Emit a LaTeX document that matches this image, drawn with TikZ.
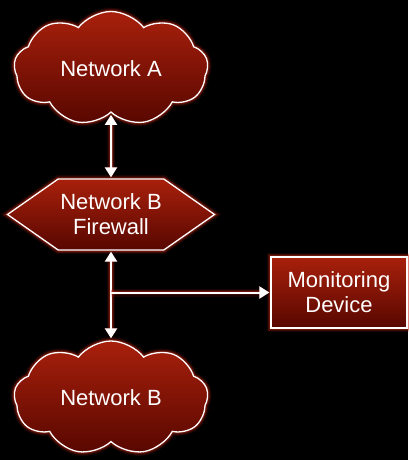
\documentclass[tikz,border=0pt]{standalone}
\usepackage{fontspec}
\setmainfont{Liberation Sans}
\usetikzlibrary{shapes.symbols,shapes.geometric,arrows.meta}
\definecolor{boxtop}{HTML}{A8200C}
\definecolor{boxbot}{HTML}{580700}
\definecolor{glowred}{HTML}{C82814}
\tikzset{
  glow/.style={
    preaction={draw=glowred,line width=8pt,opacity=0.12},
    preaction={draw=glowred,line width=5.5pt,opacity=0.2},
    preaction={draw=glowred,line width=3.5pt,opacity=0.35}},
  netshape/.style={glow, draw=white, line width=1.3pt,
    top color=boxtop, bottom color=boxbot, text=white,
    font=\fontsize{22}{25}\selectfont, align=center},
  cloudnode/.style={netshape, cloud, cloud puffs=9, cloud puff arc=105,
    aspect=1.7, minimum width=194pt, minimum height=114pt, inner sep=0pt},
  wallnode/.style={netshape, signal, signal to=west and east,
    signal pointer angle=70, minimum width=207pt, minimum height=71pt, inner sep=0pt},
  boxnode/.style={netshape, rectangle, minimum width=136pt, minimum height=71pt, inner sep=0pt},
  link/.style={glow, draw=white, line width=2pt,
    arrows={Triangle[length=10pt,width=12pt]-Triangle[length=10pt,width=12pt]}},
  feed/.style={glow, draw=white, line width=2pt,
    arrows={-Triangle[length=10pt,width=12pt]}}
}
\begin{document}
\begin{tikzpicture}[x=1pt,y=-1pt]
  \fill[black] (0,0) rectangle (408,460);
  \useasboundingbox (0,0) rectangle (408,460);

  \node[cloudnode] (neta) at (111,68.5) {Network A};
  \node[wallnode] (fw) at (111,214.5) {Network B\\Firewall};
  \node[boxnode] (mon) at (339,292.5) {Monitoring\\Device};
  \node[cloudnode] (netb) at (111,398) {Network B};

  \draw[link, shorten <=2pt, shorten >=1pt] (neta.south) -- (fw.north);
  \draw[link, shorten <=1pt, shorten >=2pt] (fw.south) -- (netb.north);
  \coordinate (tap) at (111,292.5);
  \draw[feed, shorten >=1pt] (tap) -- (mon.west);
\end{tikzpicture}
\end{document}
